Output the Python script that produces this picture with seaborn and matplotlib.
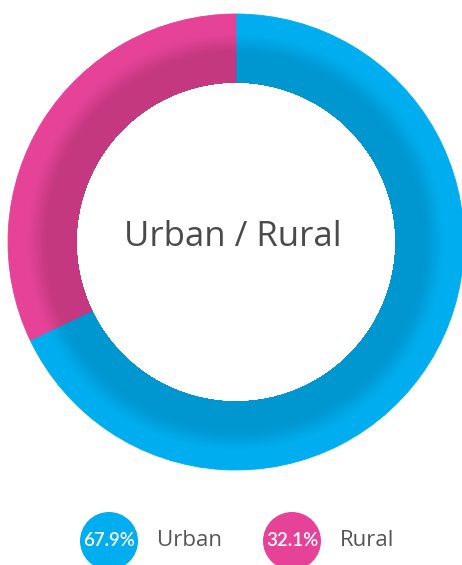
import numpy as np
import matplotlib
matplotlib.use("Agg")
import matplotlib.pyplot as plt
import seaborn as sns

# data
categories = ['Urban', 'Rural']
shares = [67.9, 32.1]
pct_labels = ['67.9%', '32.1%']
title_text = 'Urban / Rural'

sns.set_theme(style='white')
plt.rcParams['font.family'] = ['Open Sans', 'DejaVu Sans']

bright = sns.color_palette(['#00aeef', '#e64398'])
dark = sns.color_palette(['#0097d1', '#c3387f'])

W, H = 462, 565
fig = plt.figure(figsize=(W / 100, H / 100), dpi=100)
ax = fig.add_axes([0, 0, 1, 1])

cx, cy = 236, H - 242
r_in, r_out = 160, 228

# radial shading: outer rings first, each smaller ring drawn over the previous
for r in np.arange(r_out, r_in, -1.0):
    t = np.clip((r - 186) / (212 - 186), 0, 1)
    t = t * t * (3 - 2 * t)
    cols = [tuple(np.array(d) * (1 - t) + np.array(b) * t) for d, b in zip(dark, bright)]
    wedges, _ = ax.pie(shares, colors=cols, radius=r, center=(cx, cy), startangle=90,
                       counterclock=False, frame=True,
                       wedgeprops=dict(width=r - r_in, linewidth=0.6))
    for w, c in zip(wedges, cols):
        w.set_edgecolor(c)

ax.set_xlim(0, W)
ax.set_ylim(0, H)
ax.set_aspect('equal')
ax.axis('off')

ax.text(cx - 3, H - 237, title_text, ha='center', va='center', fontsize=25,
        color='#4a4a4a')

# legend
leg_x = [109, 292]
leg_y = H - 541
for x, c, p, lab in zip(leg_x, bright, pct_labels, categories):
    ax.add_patch(plt.Circle((x, leg_y), 29, color=c, lw=0))
    ax.text(x, leg_y + 1, p, ha='center', va='center', fontsize=13.5,
            color='white', family=['Lato', 'DejaVu Sans'], fontweight='semibold')
    ax.text(x + 48, leg_y + 1, lab, ha='left', va='center', fontsize=16,
            color='#555555')

fig.savefig('out.png', dpi=100)
